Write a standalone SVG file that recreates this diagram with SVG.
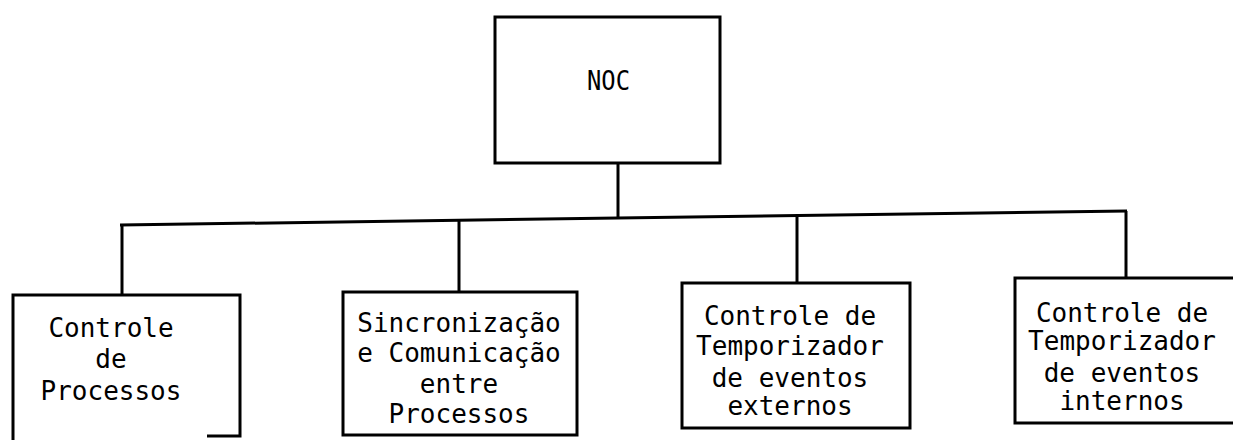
<svg xmlns="http://www.w3.org/2000/svg" width="1233" height="440" viewBox="0 0 1233 440">
<style>
.box{fill:none;stroke:#000;stroke-width:3;stroke-linejoin:miter}
.ln{fill:none;stroke:#000;stroke-width:3}
.t{font-family:"DejaVu Sans Mono","Liberation Mono",monospace;font-size:26px;fill:#000;text-anchor:middle}
.n{font-family:"DejaVu Sans Mono","Liberation Mono",monospace;font-size:27px;fill:#000}
</style>
<rect width="1233" height="440" fill="#fff"/>
<g id="connectors">
<line class="ln" x1="618" y1="163" x2="618" y2="219"/>
<line class="ln" x1="120" y1="225" x2="1127" y2="211"/>
<line class="ln" x1="122" y1="225" x2="122" y2="295"/>
<line class="ln" x1="459" y1="220" x2="459" y2="292"/>
<line class="ln" x1="797" y1="216" x2="797" y2="283"/>
<line class="ln" x1="1126" y1="211" x2="1126" y2="278"/>
</g>
<g id="noc">
<rect class="box" x="495" y="17" width="225" height="146"/>
<text class="n" x="587" y="90" textLength="43" lengthAdjust="spacingAndGlyphs">NOC</text>
</g>
<g id="controle-processos">
<polyline class="box" points="13,442 13,295 240,295 240,436 207,436"/>
<text class="t" x="111" y="337">Controle</text>
<text class="t" x="111" y="368">de</text>
<text class="t" x="111" y="400">Processos</text>
</g>
<g id="sincronizacao">
<rect class="box" x="343" y="292" width="234" height="143"/>
<text class="t" x="459" y="332">Sincronização</text>
<text class="t" x="459" y="362">e Comunicação</text>
<text class="t" x="459" y="393">entre</text>
<text class="t" x="459" y="423">Processos</text>
</g>
<g id="temporizador-externos">
<rect class="box" x="682" y="283" width="228" height="145"/>
<text class="t" x="790" y="325">Controle de</text>
<text class="t" x="790" y="355">Temporizador</text>
<text class="t" x="790" y="387">de eventos</text>
<text class="t" x="790" y="415">externos</text>
</g>
<g id="temporizador-internos">
<polyline class="box" points="1236,278 1015,278 1015,423 1236,423"/>
<text class="t" x="1122" y="322">Controle de</text>
<text class="t" x="1122" y="350">Temporizador</text>
<text class="t" x="1122" y="382">de eventos</text>
<text class="t" x="1122" y="410">internos</text>
</g>
</svg>
